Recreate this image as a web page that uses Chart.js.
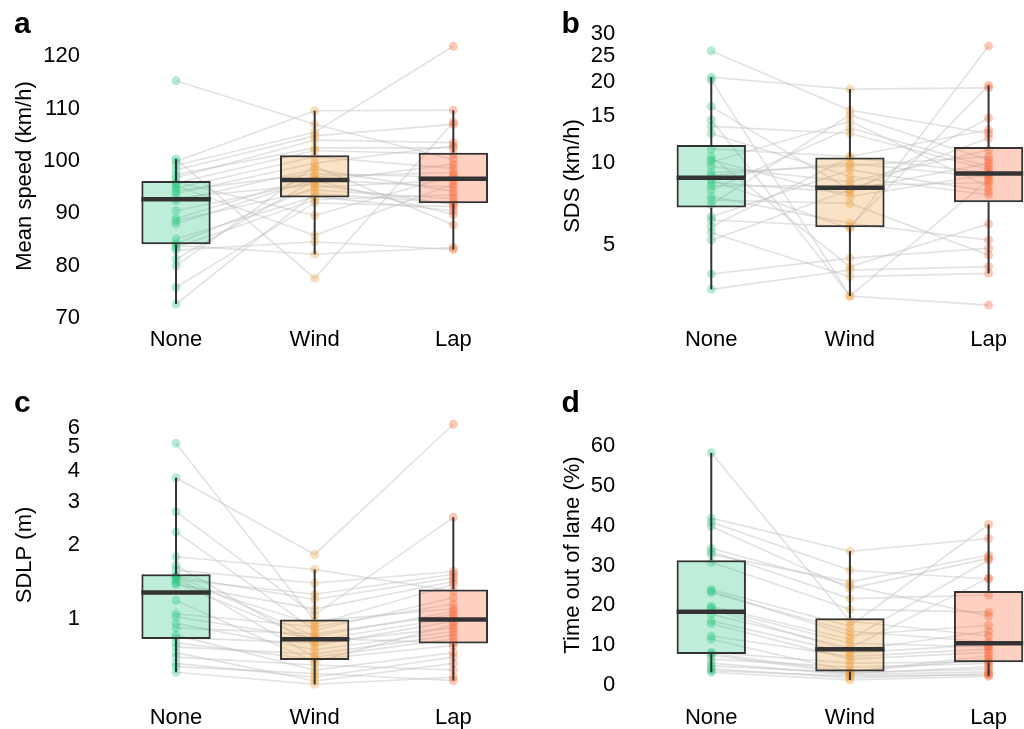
<!DOCTYPE html>
<html><head><meta charset="utf-8">
<script src="https://cdn.jsdelivr.net/npm/chart.js@4.4.1/dist/chart.umd.min.js"></script>
<style>
html,body{margin:0;padding:0;background:#fff;overflow:hidden;width:1024px;height:729px;}
canvas{position:absolute;}
</style></head><body>
<canvas id="ca" width="530" height="370" style="left:0;top:0"></canvas>
<canvas id="cb" width="560" height="370" style="left:512px;top:0"></canvas>
<canvas id="cc" width="530" height="359" style="left:0;top:370px"></canvas>
<canvas id="cd" width="560" height="359" style="left:512px;top:370px"></canvas>
<script>
// ---------- data (one entry per participant, paired across conditions) ----------
const categories = ['None', 'Wind', 'Lap'];

const speedNone = [72.7, 75.9, 80.0, 81.3, 83.0, 83.5, 83.9, 84.2, 85.1, 88.0, 88.6, 89.0, 90.5, 92.4, 93.0, 93.8, 94.3, 94.8, 95.3, 95.8, 96.0, 96.8, 97.4, 98.3, 99.2, 99.9, 100.4, 115.3];
const speedWind = [93.8, 92.0, 99.0, 96.3, 84.6, 92.6, 82.2, 95.0, 93.2, 96.5, 94.5, 97.1, 96.0, 98.4, 95.5, 99.6, 97.6, 100.8, 85.8, 102.0, 89.6, 104.0, 102.5, 104.8, 105.5, 109.6, 77.6, 107.0];
const speedLap  = [92.0, 91.3, 87.8, 89.8, 83.1, 93.5, 83.5, 96.3, 90.5, 95.0, 92.8, 97.8, 99.4, 94.2, 91.7, 102.9, 96.9, 98.6, 95.6, 101.3, 97.2, 103.5, 102.5, 107.0, 121.9, 109.7, 107.4, 100.3];

const sdsNone = [3.43, 3.91, 5.21, 5.55, 5.84, 6.18, 6.36, 7.05, 7.33, 7.54, 7.98, 8.26, 8.5, 8.69, 9.03, 9.25, 9.73, 10.1, 10.3, 10.6, 11.3, 12.9, 13.7, 14.5, 16.2, 20.3, 20.8, 26.0];
const sdsWind = [4.04, 4.47, 8.0, 3.82, 10.5, 5.84, 9.46, 15.1, 7.12, 6.01, 13.5, 8.27, 7.8, 5.75, 10.0, 9.8, 8.56, 14.3, 7.54, 4.16, 10.6, 8.94, 12.9, 3.24, 7.98, 3.24, 18.8, 15.7];
const sdsLap  = [4.16, 4.86, 12.4, 3.93, 9.25, 19.4, 7.9, 10.3, 4.59, 5.21, 9.73, 8.5, 14.7, 27.1, 8.9, 10.6, 11.2, 8.21, 9.1, 5.98, 13.3, 7.65, 9.5, 3.0, 10.0, 8.69, 19.0, 12.9];

const sdlpNone = [0.607, 0.64, 0.66, 0.70, 0.73, 0.77, 0.80, 0.84, 0.86, 0.92, 0.96, 1.02, 1.05, 1.19, 1.38, 1.40, 1.42, 1.45, 1.48, 1.49, 1.50, 1.58, 1.65, 1.79, 2.26, 2.73, 3.75, 5.18];
const sdlpWind = [0.543, 0.60, 0.58, 0.65, 0.56, 0.72, 0.685, 0.80, 0.62, 0.87, 0.75, 0.835, 0.93, 0.67, 1.10, 0.82, 0.95, 1.26, 0.70, 1.20, 0.85, 1.40, 0.78, 1.59, 0.90, 1.04, 1.83, 0.98];
const sdlpLap  = [0.58, 0.562, 0.70, 0.62, 0.66, 0.86, 0.78, 0.92, 0.73, 1.04, 0.89, 0.80, 1.15, 0.95, 1.42, 1.01, 1.38, 1.52, 0.83, 1.47, 1.07, 1.56, 0.98, 1.30, 1.22, 2.59, 6.19, 1.10];

const tolNone = [3.2, 3.6, 4.1, 4.8, 5.5, 6.5, 7.5, 7.9, 8.2, 11.5, 12.3, 15.4, 16.1, 17.8, 19.0, 19.4, 19.8, 23.2, 23.6, 24.0, 30.8, 32.8, 33.5, 34.3, 39.8, 40.9, 41.9, 58.3];
const tolWind = [1.26, 2.3, 1.8, 3.1, 2.6, 4.5, 2.9, 3.3, 5.5, 3.4, 7.2, 6.5, 8.0, 9.3, 8.6, 10.5, 11.5, 13.5, 12.5, 14.8, 19.0, 25.9, 21.7, 25.0, 24.2, 28.8, 33.6, 16.0];
const tolLap  = [2.2, 2.5, 2.8, 4.0, 3.3, 5.4, 4.6, 6.5, 5.8, 7.3, 9.0, 8.2, 10.2, 26.9, 13.5, 9.6, 31.4, 10.8, 15.0, 40.3, 18.3, 32.6, 22.6, 17.3, 31.8, 26.6, 36.8, 12.3];

const speedTicks = [70, 80, 90, 100, 110, 120];
const sdsTicks   = [5, 10, 15, 20, 25, 30];
const sdlpTicks  = [1, 2, 3, 4, 5, 6];
const tolTicks   = [0, 10, 20, 30, 40, 50, 60];

// ---------- styling ----------
const FONT = '"Liberation Sans", Arial, Helvetica, sans-serif';
const pointColors = ['rgba(40,200,130,0.35)', 'rgba(240,160,60,0.35)', 'rgba(250,100,50,0.35)'];
const boxColors   = ['rgba(40,200,130,0.30)', 'rgba(240,160,60,0.30)', 'rgba(250,100,50,0.30)'];
const lineColor = 'rgba(190,190,190,0.45)';
const dark = '#333333';

function quant(s, p) {
  const h = (s.length - 1) * p, lo = Math.floor(h);
  return lo + 1 < s.length ? s[lo] + (h - lo) * (s[lo + 1] - s[lo]) : s[lo];
}
function boxStats(arr, log) {
  const f = log ? Math.log10 : (v => v);
  const inv = log ? (v => Math.pow(10, v)) : (v => v);
  const t = arr.map(f).sort((a, b) => a - b);
  const q1 = quant(t, 0.25), med = quant(t, 0.5), q3 = quant(t, 0.75);
  const iqr = q3 - q1;
  const hi = Math.max(...t.filter(v => v <= q3 + 1.5 * iqr));
  const lo = Math.min(...t.filter(v => v >= q1 - 1.5 * iqr));
  return {q1: inv(q1), med: inv(med), q3: inv(q3), lo: inv(lo), hi: inv(hi)};
}
function noPad(s) { s.paddingTop = 0; s.paddingBottom = 0; s.paddingLeft = 0; s.paddingRight = 0; }

function makePanel(id, c) {
  const ds = [];
  const n = c.values[0].length;
  for (let i = 0; i < n; i++) {
    ds.push({type: 'line', data: c.values.map((arr, k) => ({x: k + 1, y: arr[i]})),
      borderColor: lineColor, borderWidth: 1.6, pointRadius: 0, fill: false, tension: 0, order: 10});
  }
  c.values.forEach((arr, k) => {
    ds.push({type: 'line', showLine: false, data: arr.map(v => ({x: k + 1, y: v})),
      pointRadius: 4.5, pointBackgroundColor: pointColors[k], pointBorderWidth: 0, order: 9});
  });
  const stats = c.values.map(arr => boxStats(arr, c.log));
  ds.push({type: 'bar', data: stats.map((s, k) => ({x: k + 1, y: [s.q1, s.q3]})),
    backgroundColor: boxColors, borderColor: dark, borderWidth: 2, borderSkipped: false,
    barPercentage: 0.5, categoryPercentage: 1, order: 8});
  stats.forEach((s, k) => {
    ds.push({type: 'line', data: [{x: k + 1, y: s.lo}, {x: k + 1, y: s.q1}], borderColor: dark, borderWidth: 2, pointRadius: 0, order: 7});
    ds.push({type: 'line', data: [{x: k + 1, y: s.q3}, {x: k + 1, y: s.hi}], borderColor: dark, borderWidth: 2, pointRadius: 0, order: 7});
    ds.push({type: 'line', data: [{x: k + 0.75, y: s.med}, {x: k + 1.25, y: s.med}], borderColor: dark, borderWidth: 4.5, borderCapStyle: 'butt', pointRadius: 0, order: 6});
  });

  const letterPlugin = {
    id: 'panelLetter',
    afterDraw(chart) {
      const ctx = chart.ctx;
      ctx.save();
      ctx.font = 'bold 30px ' + FONT;
      ctx.fillStyle = '#000';
      ctx.textBaseline = 'alphabetic';
      ctx.textAlign = 'left';
      ctx.fillText(c.letter, c.letterX, c.letterY);
      ctx.restore();
    }
  };

  new Chart(document.getElementById(id), {
    type: 'bar',
    data: {datasets: ds},
    options: {
      responsive: false, animation: false, devicePixelRatio: 1, events: [],
      layout: {padding: {top: c.padTop, right: c.padRight, bottom: 0, left: 0}},
      plugins: {legend: {display: false}, tooltip: {enabled: false}, title: {display: false}},
      scales: {
        x: {
          type: 'linear', min: 0.5, max: 3.5, offset: false, bounds: 'data',
          grid: {display: false, drawTicks: false}, border: {display: false},
          afterBuildTicks: s => { s.ticks = [1, 2, 3].map(v => ({value: v})); },
          afterFit: s => { s.height = c.xHeight; noPad(s); },
          ticks: {padding: 8, color: '#000', font: {family: FONT, size: 22}, autoSkip: false, maxRotation: 0,
            callback: v => categories[Math.round(v) - 1]}
        },
        y: {
          type: c.log ? 'logarithmic' : 'linear', min: c.min, max: c.max, bounds: 'data',
          grid: {display: false, drawTicks: false}, border: {display: false},
          afterBuildTicks: s => { s.ticks = c.ticks.map(v => ({value: v})); },
          afterFit: s => { s.width = c.yWidth; noPad(s); },
          ticks: {padding: 26.7, color: '#000', font: {family: FONT, size: 22}, autoSkip: false,
            callback: v => String(v)},
          title: {display: true, text: c.title, color: '#000', font: {family: FONT, size: 22},
            padding: {top: c.titlePad, bottom: 0}}
        }
      }
    },
    plugins: [letterPlugin]
  });
}

makePanel('ca', {values: [speedNone, speedWind, speedLap], log: false, min: 69.85, max: 124.43, ticks: speedTicks,
  title: 'Mean speed (km/h)', letter: 'a', letterX: 14, letterY: 33,
  yWidth: 106.7, padRight: 7.35, padTop: 33, xHeight: 51, titlePad: 11.8});
makePanel('cb', {values: [sdsNone, sdsWind, sdsLap], log: true, min: 2.666, max: 30.28, ticks: sdsTicks,
  title: 'SDS (km/h)', letter: 'b', letterX: 49.5, letterY: 33,
  yWidth: 129.95, padRight: 14.1, padTop: 33, xHeight: 51, titlePad: 47.8});
makePanel('cc', {values: [sdlpNone, sdlpWind, sdlpLap], log: true, min: 0.4818, max: 6.88, ticks: sdlpTicks,
  title: 'SDLP (m)', letter: 'c', letterX: 14, letterY: 41.5,
  yWidth: 106.7, padRight: 7.35, padTop: 43, xHeight: 32, titlePad: 11.8});
makePanel('cd', {values: [tolNone, tolWind, tolLap], log: false, min: -3.01, max: 68.3, ticks: tolTicks,
  title: 'Time out of lane (%)', letter: 'd', letterX: 49.5, letterY: 41.5,
  yWidth: 129.95, padRight: 14.1, padTop: 43, xHeight: 32, titlePad: 47.8});
</script>
</body></html>
